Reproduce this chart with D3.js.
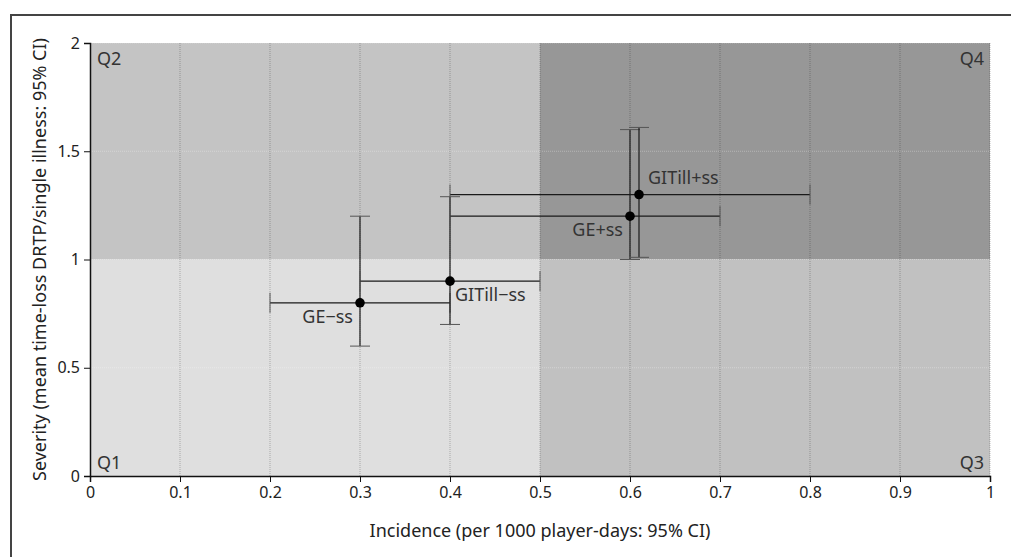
<!DOCTYPE html>
<html>
<head>
<meta charset="utf-8">
<script src="https://cdn.jsdelivr.net/npm/d3@7"></script>
<style>
  body { margin: 0; background: #fff; }
  svg { display: block; font-family: "Noto Sans", "Open Sans", sans-serif; }
  .tick text { fill: #222; }
</style>
</head>
<body>
<div id="chart"></div>
<script>
// Study groups with incidence / severity and their 95% CIs
const groups    = ["GE\u2212ss", "GITill\u2212ss", "GE+ss", "GITill+ss"];
const incidence = [0.3, 0.4, 0.6, 0.61];
const incLow    = [0.2, 0.3, 0.4, 0.4];
const incHigh   = [0.4, 0.5, 0.7, 0.8];
const severity  = [0.8, 0.9, 1.2, 1.3];
const sevLow    = [0.6, 0.7, 1.0, 1.01];
const sevHigh   = [1.2, 1.29, 1.6, 1.61];

const xTicks = [0, 0.1, 0.2, 0.3, 0.4, 0.5, 0.6, 0.7, 0.8, 0.9, 1];
const yTicks = [0, 0.5, 1, 1.5, 2];

// Quadrants: name, x range, y range
const quadNames = ["Q1", "Q2", "Q3", "Q4"];
const quadX = [[0, 0.5], [0, 0.5], [0.5, 1], [0.5, 1]];
const quadY = [[0, 1], [1, 2], [0, 1], [1, 2]];

const width = 1011, height = 557;
const margin = {top: 43, right: 21, bottom: 81, left: 90};
const w = width - margin.left - margin.right;
const h = height - margin.top - margin.bottom;

const svg = d3.select('#chart')
    .append('svg')
    .attr('width', width)
    .attr('height', height);

// outer frame (only top and left edges are visible in the picture)
svg.append('path')
    .attr('d', `M11,${height} V15 H${width}`)
    .attr('fill', 'none')
    .attr('stroke', '#444')
    .attr('stroke-width', 2);

const g = svg.append('g')
    .attr('transform', `translate(${margin.left},${margin.top})`);

const x = d3.scaleLinear().domain([0, 1]).range([0, w]);
const y = d3.scaleLinear().domain([0, 2]).range([h, 0]);

// quadrant backgrounds
const quadFill = {Q1: '#dfdfdf', Q2: '#c4c4c4', Q3: '#c1c1c1', Q4: '#979797'};
const quads = quadNames.map((n, i) => ({name: n, x: quadX[i], y: quadY[i]}));

g.selectAll('.quad')
    .data(quads)
    .enter()
    .append('rect')
    .attr('x', d => x(d.x[0]))
    .attr('y', d => y(d.y[1]))
    .attr('width', d => x(d.x[1]) - x(d.x[0]))
    .attr('height', d => y(d.y[0]) - y(d.y[1]))
    .attr('fill', d => quadFill[d.name]);

// horizontal grid (light, dotted)
g.selectAll('.hgrid')
    .data(yTicks.filter(d => d > 0))
    .enter()
    .append('line')
    .attr('x1', 0).attr('x2', w)
    .attr('y1', d => y(d)).attr('y2', d => y(d))
    .attr('stroke', 'rgba(255,255,255,0.3)')
    .attr('stroke-dasharray', '1,1');

// vertical grid (dark, dotted)
g.selectAll('.vgrid')
    .data(xTicks.filter(d => d > 0))
    .enter()
    .append('line')
    .attr('x1', d => x(d)).attr('x2', d => x(d))
    .attr('y1', 0).attr('y2', h)
    .attr('stroke', 'rgba(0,0,0,0.25)')
    .attr('stroke-dasharray', '1,1');

// quadrant labels
const quadLabel = {
    Q1: {x: 0, y: 0, anchor: 'start', dx: 7, dy: -7},
    Q2: {x: 0, y: 2, anchor: 'start', dx: 7, dy: 22},
    Q3: {x: 1, y: 0, anchor: 'end', dx: -6, dy: -7},
    Q4: {x: 1, y: 2, anchor: 'end', dx: -6, dy: 22}
};
g.selectAll('.qlabel')
    .data(quadNames)
    .enter()
    .append('text')
    .attr('x', d => x(quadLabel[d].x) + quadLabel[d].dx)
    .attr('y', d => y(quadLabel[d].y) + quadLabel[d].dy)
    .attr('text-anchor', d => quadLabel[d].anchor)
    .attr('font-size', 18)
    .attr('fill', '#333')
    .text(d => d);

// axes
const fmt = d => d3.format('~g')(d);
const xAxis = g.append('g')
    .attr('transform', `translate(0,${h})`)
    .call(d3.axisBottom(x).tickValues(d3.range(0, 1.001, 0.02)).tickSize(4).tickFormat(''));
xAxis.call(d3.axisBottom(x).tickValues(xTicks).tickSize(6).tickPadding(5).tickFormat(fmt));
const yAxis = g.append('g')
    .call(d3.axisLeft(y).tickValues(d3.range(0, 2.001, 0.1)).tickSize(4).tickFormat(''));
yAxis.call(d3.axisLeft(y).tickValues(yTicks).tickSize(6).tickPadding(4).tickFormat(fmt));

g.selectAll('.domain').attr('stroke', '#111').attr('stroke-width', 1.5);
g.selectAll('.tick line').attr('stroke', '#111');
g.selectAll('.tick text').attr('font-size', 16).attr('font-family', '"Noto Sans", sans-serif');

// axis titles
svg.append('text')
    .attr('x', margin.left + w / 2)
    .attr('y', 537)
    .attr('text-anchor', 'middle')
    .attr('font-size', 18)
    .attr('fill', '#222')
    .text('Incidence (per 1000 player-days: 95% CI)');

svg.append('text')
    .attr('transform', `translate(46,${margin.top + h / 2}) rotate(-90)`)
    .attr('text-anchor', 'middle')
    .attr('font-size', 18)
    .attr('fill', '#222')
    .text('Severity (mean time-loss DRTP/single illness: 95% CI)');

// points with error bars
const points = groups.map((name, i) => ({
    name, x: incidence[i], y: severity[i],
    x0: incLow[i], x1: incHigh[i], y0: sevLow[i], y1: sevHigh[i]
}));
const cap = 10;

const pt = g.selectAll('.pt')
    .data(points)
    .enter()
    .append('g');

// vertical CI
pt.append('line')
    .attr('x1', d => x(d.x)).attr('x2', d => x(d.x))
    .attr('y1', d => y(d.y0)).attr('y2', d => y(d.y1))
    .attr('stroke', '#1a1a1a').attr('stroke-width', 1.2);
pt.selectAll('.vcap')
    .data(d => [[d.x, d.y0], [d.x, d.y1]])
    .enter()
    .append('line')
    .attr('x1', d => x(d[0]) - cap).attr('x2', d => x(d[0]) + cap)
    .attr('y1', d => y(d[1])).attr('y2', d => y(d[1]))
    .attr('stroke', '#555').attr('stroke-width', 1);

// horizontal CI
pt.append('line')
    .attr('x1', d => x(d.x0)).attr('x2', d => x(d.x1))
    .attr('y1', d => y(d.y)).attr('y2', d => y(d.y))
    .attr('stroke', '#1a1a1a').attr('stroke-width', 1.2);
pt.selectAll('.hcap')
    .data(d => [[d.x0, d.y], [d.x1, d.y]])
    .enter()
    .append('line')
    .attr('x1', d => x(d[0])).attr('x2', d => x(d[0]))
    .attr('y1', d => y(d[1]) - cap).attr('y2', d => y(d[1]) + cap)
    .attr('stroke', '#555').attr('stroke-width', 1);

pt.append('circle')
    .attr('cx', d => x(d.x))
    .attr('cy', d => y(d.y))
    .attr('r', 4.8)
    .attr('fill', '#000');

// point labels
const labelPos = [
    {anchor: 'end', dx: -7, dy: 20},
    {anchor: 'start', dx: 5, dy: 20},
    {anchor: 'end', dx: -7, dy: 20},
    {anchor: 'start', dx: 9, dy: -11}
];
pt.append('text')
    .attr('x', (d, i) => x(d.x) + labelPos[i].dx)
    .attr('y', (d, i) => y(d.y) + labelPos[i].dy)
    .attr('text-anchor', (d, i) => labelPos[i].anchor)
    .attr('font-size', 18)
    .attr('fill', '#333')
    .text(d => d.name);
</script>
</body>
</html>
